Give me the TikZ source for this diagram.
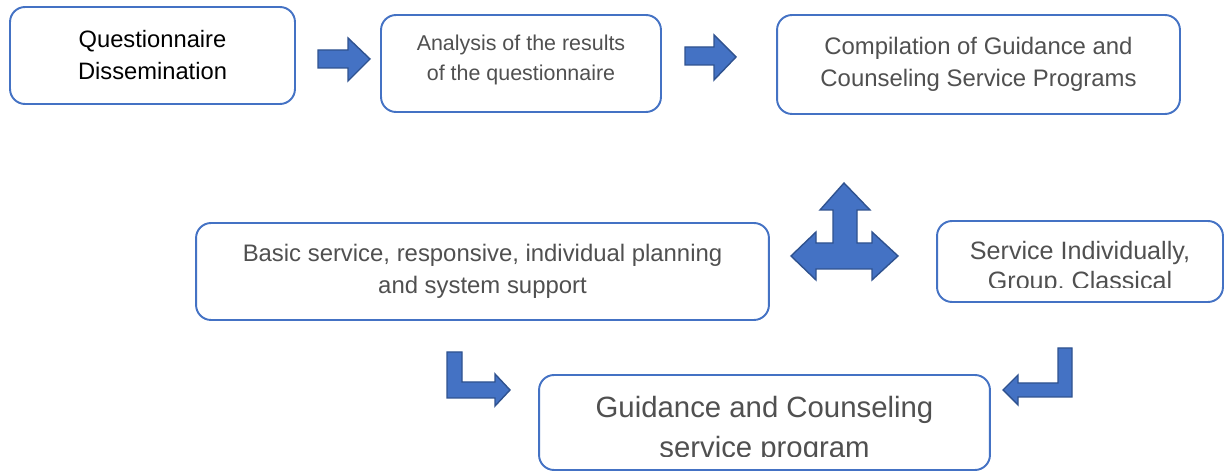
\documentclass[tikz,border=0pt]{standalone}
\usepackage{fontspec}
\setmainfont{Liberation Sans}
\usetikzlibrary{positioning}
\definecolor{BoxBlue}{RGB}{68,114,196}
\definecolor{ArrowEdge}{RGB}{47,82,143}
\definecolor{TextGray}{RGB}{80,80,80}

\begin{document}
\begin{tikzpicture}[x=0.02cm,y=-0.02cm,
	box/.style={rectangle,draw=BoxBlue,line width=1.1pt,rounded corners=0.3cm,
		fill=white,align=center,inner sep=0pt,text=TextGray},
	blockarrow/.style={fill=BoxBlue,draw=ArrowEdge,line width=0.8pt,line join=miter}]
	\useasboundingbox (0,0) rectangle (1232,472);

	% top row
	\node [box,text=black,minimum width=5.7cm,minimum height=1.94cm,
		font=\fontsize{13.5}{18.2}\selectfont, name = quest] at (152.5,55.5)
		{Questionnaire\\Dissemination};
	\node [box,minimum width=5.6cm,minimum height=1.94cm, name = analysis] at (521,63.5) {};
	\node [align=center,text=TextGray,font=\fontsize{12.2}{17}\selectfont,
		name = analysistext] at (521,60) {Analysis of the results\\of the questionnaire};
	\node [box,minimum width=8.06cm,minimum height=1.98cm,
		font=\fontsize{13.6}{18.5}\selectfont, name = compile] at (978.5,64.5)
		{Compilation of Guidance and\\Counseling Service Programs};

	% middle row
	\node [box,minimum width=11.46cm,minimum height=1.94cm,
		font=\fontsize{13.6}{18.2}\selectfont, name = basic] at (482.5,271.5)
		{Basic service, responsive, individual planning\\and system support};
	\node [box,minimum width=5.72cm,minimum height=1.62cm, name = svc] at (1080,261.5) {};
	\begin{scope}
		\clip (svc.north west) rectangle ([yshift=0.3cm]svc.south east);
		\node [align=center,text=TextGray,font=\fontsize{14.3}{17.6}\selectfont,
			name = svctext] at (1080,268) {Service Individually,\\Group, Classical};
	\end{scope}

	% bottom
	\node [box,minimum width=9.02cm,minimum height=1.9cm, name = program] at (764.5,422.5) {};
	\begin{scope}
		\clip (program.north west) rectangle ([yshift=0.28cm]program.south east);
		\node [align=center,text=TextGray,font=\fontsize{16.7}{22.7}\selectfont,
			name = progtext] at (764.5,430) {Guidance and Counseling\\service program};
	\end{scope}

	% block arrows
	\draw [blockarrow] (318,50) -- (348,50) -- (348,38) -- (370,59) -- (348,81)
		-- (348,68) -- (318,68) -- cycle;
	\draw [blockarrow] (685,47) -- (714,47) -- (714,35) -- (736,57) -- (714,80)
		-- (714,65) -- (685,65) -- cycle;
	\draw [blockarrow] (791,256) -- (816,232) -- (816,243) -- (833,243) -- (833,210)
		-- (820,210) -- (844,183) -- (870,210) -- (857,210) -- (857,243) -- (872,243)
		-- (872,232) -- (898,256) -- (872,280) -- (872,269) -- (816,269) -- (816,280) -- cycle;
	\draw [blockarrow] (447,352) -- (462,352) -- (462,382) -- (495,382) -- (495,374)
		-- (510,390) -- (495,406) -- (495,398) -- (447,398) -- cycle;
	\draw [blockarrow] (1072,348) -- (1072,397) -- (1018,397) -- (1018,405) -- (1003,390)
		-- (1018,375) -- (1018,383) -- (1058,383) -- (1058,348) -- cycle;
\end{tikzpicture}
\end{document}
